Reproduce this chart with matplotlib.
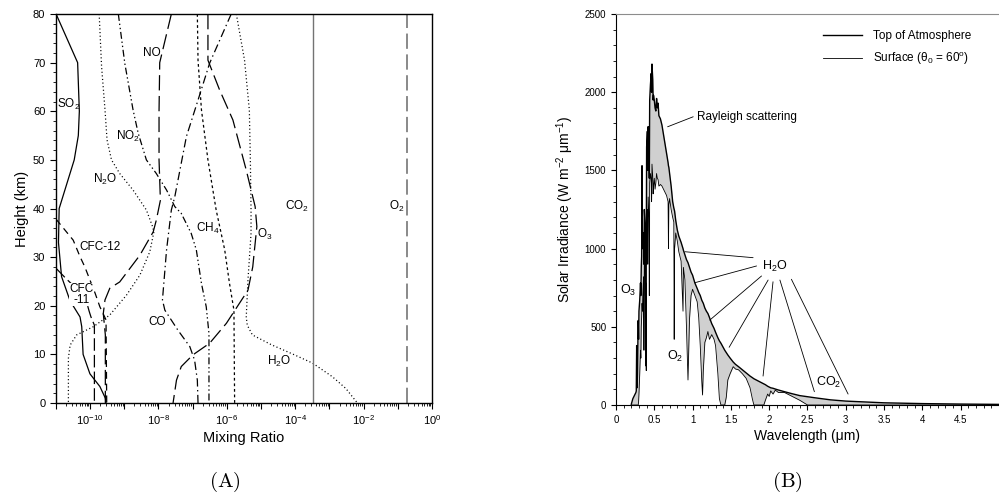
import numpy as np
import matplotlib
matplotlib.use('Agg')
import matplotlib.pyplot as plt
from matplotlib.ticker import FixedLocator, FuncFormatter, MultipleLocator, NullFormatter

plt.rcParams['font.family'] = ['Liberation Sans', 'DejaVu Sans']
plt.rcParams['mathtext.fontset'] = 'custom'
plt.rcParams['mathtext.rm'] = 'Liberation Sans'
plt.rcParams['mathtext.it'] = 'Liberation Sans:italic'
plt.rcParams['mathtext.default'] = 'regular'
plt.rcParams['lines.scale_dashes'] = False

# ---- (A) vertical profiles: height (km) vs log10 mixing ratio
so2_h = [80, 70, 60, 55, 50, 45, 40, 33, 26, 21, 17.7, 15.7, 10, 6, 3.4, 1, 0]
so2_x = [-10.99, -10.36, -10.31, -10.34, -10.46, -10.68, -10.90, -10.92, -10.83, -10.58,
         -10.29, -10.24, -10.20, -10.0, -9.71, -9.55, -9.53]

cfc11_h = [27.7, 25.6, 22.2, 20.8, 18.8, 17.7, 16, 0]
cfc11_x = [-10.99, -10.70, -10.20, -10.10, -10.02, -9.97, -9.87, -9.87]

cfc12_h = [37.8, 33.5, 30.1, 28.0, 22.6, 19.8, 17.1, 0]
cfc12_x = [-10.99, -10.49, -10.29, -10.15, -9.85, -9.71, -9.53, -9.51]

no_h = [80, 70, 60, 50, 41.7, 37.6, 35.2, 30.4, 24.9, 23.6, 21.2, 18.4, 14, 0]
no_x = [-7.62, -7.96, -7.98, -7.98, -7.94, -8.06, -8.15, -8.54, -9.13, -9.42, -9.56, -9.61,
        -9.55, -9.55]

n2o_h = [80, 69.2, 60.3, 54.1, 50, 47.2, 43.8, 39.7, 36.3, 35.2, 31.1, 26.3, 22.2, 18.1,
         15.7, 14, 11.9, 9.2, 0]
n2o_x = [-9.73, -9.66, -9.56, -9.50, -9.37, -9.13, -8.74, -8.35, -8.17, -8.13, -8.25, -8.54,
         -8.93, -9.42, -9.90, -10.39, -10.58, -10.63, -10.63]

no2_h = [80, 69.8, 60.3, 55.5, 50, 47.2, 43.8, 40.4, 39.0, 34.9, 31.5, 24.6, 19.8, 14.3, 0]
no2_x = [-9.17, -8.98, -8.74, -8.59, -8.35, -8.06, -7.76, -7.52, -7.33, -7.04, -6.89, -6.74,
         -6.60, -6.52, -6.52]

ch4_h = [80, 70.5, 60.3, 50, 39.7, 31.5, 24.6, 19.1, 0]
ch4_x = [-6.86, -6.84, -6.74, -6.55, -6.31, -6.06, -5.92, -5.79, -5.77]

co_h = [80, 69.9, 62.3, 54.8, 42.4, 39.7, 31.5, 21.2, 19.1, 15.0, 11.6, 8.8, 4.7, 0]
co_x = [-5.87, -6.50, -6.84, -7.18, -7.52, -7.62, -7.76, -7.88, -7.81, -7.43, -7.08, -6.94,
        -6.86, -6.84]

o3_h = [80, 70.5, 64.4, 58.2, 47.9, 40.4, 36.3, 28.0, 23.2, 20.5, 16.4, 12.3, 9.9, 7.5, 4.7, 0]
o3_x = [-6.55, -6.55, -6.21, -5.82, -5.43, -5.17, -5.12, -5.24, -5.38, -5.63, -6.01, -6.50,
        -6.99, -7.33, -7.47, -7.57]

h2o_h = [80, 70.5, 60.3, 50, 39.7, 34.9, 25.3, 17.7, 16, 14, 12, 10, 8.2, 5.4, 3.0, 0]
h2o_x = [-5.72, -5.48, -5.34, -5.31, -5.29, -5.29, -5.38, -5.43, -5.40, -5.25, -4.70, -4.05,
         -3.49, -2.91, -2.52, -2.18]

co2_x = -3.47
o2_x = -0.72

# ---- (B) solar spectrum: wavelength (um), top of atmosphere and surface irradiance
wl = [0.20, 0.22, 0.24, 0.26, 0.265, 0.27, 0.275, 0.28, 0.29, 0.295, 0.30, 0.31, 0.32, 0.325,
      0.33, 0.335, 0.34, 0.345, 0.35, 0.36, 0.365, 0.37, 0.38, 0.385, 0.39, 0.395, 0.40, 0.41,
      0.415, 0.42, 0.43, 0.435, 0.44, 0.45, 0.46, 0.465, 0.47, 0.48, 0.485, 0.49, 0.50, 0.51,
      0.52, 0.53, 0.54, 0.55, 0.56, 0.58, 0.60, 0.62, 0.64, 0.66, 0.68, 0.685, 0.69, 0.70,
      0.72, 0.74, 0.755, 0.76, 0.765, 0.78, 0.80, 0.82, 0.85, 0.875, 0.88, 0.90, 0.92, 0.94,
      0.96, 0.98, 1.00, 1.03, 1.06, 1.08, 1.10, 1.12, 1.13, 1.14, 1.16, 1.18, 1.20, 1.22,
      1.25, 1.28, 1.30, 1.33, 1.35, 1.37, 1.42, 1.44, 1.46, 1.49, 1.53, 1.56, 1.60, 1.65,
      1.70, 1.75, 1.78, 1.80, 1.93, 1.95, 1.98, 2.00, 2.02, 2.05, 2.08, 2.12, 2.20, 2.30,
      2.40, 2.50, 2.60, 2.80, 3.00, 3.50, 4.00, 4.50, 5.00]
toa = [5, 40, 60, 80, 90, 380, 110, 200, 540, 420, 600, 670, 780, 700,
       880, 950, 1530, 1000, 1050, 1100, 900, 1250, 1150, 700, 1050, 900, 1650, 1750,
       1500, 1780, 1650, 1450, 1950, 2050, 2120, 2000, 2180, 2080, 1950, 1980, 1950, 1900,
       1880, 1960, 1900, 1930, 1850, 1830, 1790, 1730, 1670, 1610, 1550, 1530, 1520, 1480,
       1400, 1300, 1260, 1250, 1240, 1180, 1120, 1080, 1040, 1000, 990, 960, 930, 910,
       880, 850, 830, 780, 745, 720, 700, 670, 660, 650, 620, 600, 585, 560,
       520, 490, 465, 430, 410, 395, 350, 335, 320, 300, 275, 260, 245, 225,
       205, 185, 175, 168, 135, 130, 120, 115, 110, 107, 102, 96, 85, 72,
       60, 53, 46, 33, 25, 14, 9, 6, 4]
sfc = [0, 0, 0, 0, 0, 0, 0, 0, 0, 20, 70, 200, 350, 300,
       500, 560, 650, 600, 700, 820, 350, 950, 880, 250, 780, 220, 1100, 1250,
       900, 1330, 1200, 700, 1420, 1480, 1440, 1300, 1540, 1460, 1350, 1400, 1450, 1380,
       1420, 1480, 1450, 1440, 1400, 1410, 1400, 1380, 1360, 1340, 1300, 1000, 1280, 1320,
       1250, 1200, 1170, 420, 1000, 1100, 1050, 980, 920, 600, 880, 800, 500, 160,
       550, 700, 740, 700, 660, 560, 380, 150, 64, 220, 400, 430, 470, 420,
       450, 420, 380, 200, 40, 0, 0, 50, 160, 200, 245, 230, 225, 200,
       170, 110, 40, 0, 0, 30, 70, 55, 90, 70, 95, 80, 80, 55,
       30, 0, 0, 0, 0, 0, 0, 0, 0]

fig = plt.figure(figsize=(9.99, 4.97), dpi=100)
ax1 = fig.add_axes([0.0558, 0.1891, 0.3766, 0.7827])
ax2 = fig.add_axes([0.6166, 0.1851, 0.3834, 0.7867])

# ---------------- panel A
def prof(x, h, ls, color='k', lw=0.9):
    ax1.plot(10.0 ** np.array(x), h, color=color, lw=lw, linestyle=ls)

prof(so2_x, so2_h, '-')
prof(cfc11_x, cfc11_h, (0, (9, 3)))
prof(cfc12_x, cfc12_h, (0, (5, 3.5)))
prof(no_x, no_h, (0, (11, 4)))
prof(n2o_x, n2o_h, (0, (0.8, 1.8)))
prof(no2_x, no2_h, (0, (5, 2, 1, 2, 1, 2)))
prof(ch4_x, ch4_h, (0, (2, 2)))
prof(co_x, co_h, (0, (6, 2.5, 1, 2.5)))
prof(o3_x, o3_h, (0, (11, 4)))
prof(h2o_x, h2o_h, (0, (0.8, 1.8)))
ax1.plot([10.0 ** co2_x] * 2, [0, 80], color='0.45', lw=1.0)
ax1.plot([10.0 ** o2_x] * 2, [0, 80], color='0.5', lw=1.3, linestyle=(0, (11, 4)))

ax1.set_xscale('log')
ax1.set_xlim(1e-11, 1)
ax1.set_ylim(0, 80)
ax1.xaxis.set_major_locator(FixedLocator([10.0 ** e for e in range(-11, 1)]))
ax1.xaxis.set_minor_locator(FixedLocator([m * 10.0 ** e for e in range(-11, 0) for m in range(2, 10)]))
ax1.xaxis.set_major_formatter(FuncFormatter(
    lambda v, p: r'$10^{%d}$' % round(np.log10(v)) if round(np.log10(v)) % 2 == 0 else ''))
ax1.xaxis.set_minor_formatter(NullFormatter())
ax1.yaxis.set_major_locator(MultipleLocator(10))
ax1.yaxis.set_minor_locator(MultipleLocator(2))
ax1.tick_params(which='major', direction='out', length=4, width=0.8, labelsize=8)
ax1.tick_params(which='minor', direction='out', length=2.5, width=0.6)
for s in ax1.spines.values():
    s.set_linewidth(1.0)
ax1.set_xlabel('Mixing Ratio', fontsize=10.5, labelpad=3)
ax1.set_ylabel('Height (km)', fontsize=10.5, labelpad=3)

lab = dict(fontsize=8.5, ha='center', va='center')
ax1.text(10 ** -10.63, 61.3, 'SO$_2$', **lab)
ax1.text(10 ** -8.2, 71.9, 'NO', **lab)
ax1.text(10 ** -8.88, 54.8, 'NO$_2$', **lab)
ax1.text(10 ** -9.56, 46.0, 'N$_2$O', **lab)
ax1.text(10 ** -3.94, 40.4, 'CO$_2$', **lab)
ax1.text(10 ** -1.04, 40.4, 'O$_2$', **lab)
ax1.text(10 ** -6.55, 35.9, 'CH$_4$', **lab)
ax1.text(10 ** -4.9, 34.6, 'O$_3$', **lab)
ax1.text(10 ** -9.71, 32.1, 'CFC-12', bbox=dict(fc='white', ec='none', pad=0.3), **lab)
ax1.text(10 ** -10.24, 22.3, 'CFC\n-11', linespacing=0.9,
         bbox=dict(fc='white', ec='none', pad=0.1), **lab)
ax1.text(10 ** -8.04, 16.7, 'CO', **lab)
ax1.text(10 ** -4.48, 8.5, 'H$_2$O', **lab)

# ---------------- panel B
ax2.fill_between(wl, sfc, toa, color='#d0d0d0', lw=0)
ax2.plot(wl, toa, color='k', lw=1.0, label='Top of Atmosphere')
ax2.plot(wl, sfc, color='k', lw=0.6, label=r'Surface ($\theta_0$ = 60$^o$)')
ax2.set_xlim(0, 5)
ax2.set_ylim(0, 2500)
ax2.xaxis.set_major_locator(FixedLocator([0, 0.5, 1, 1.5, 2, 2.5, 3, 3.5, 4, 4.5]))
ax2.xaxis.set_major_formatter(FuncFormatter(lambda v, p: '%g' % v))
ax2.xaxis.set_minor_locator(MultipleLocator(0.1))
ax2.yaxis.set_major_locator(MultipleLocator(500))
ax2.yaxis.set_minor_locator(MultipleLocator(100))
ax2.tick_params(which='major', direction='out', length=3.5, width=0.8, labelsize=7)
ax2.tick_params(which='minor', direction='out', length=2, width=0.6)
ax2.spines['right'].set_visible(False)
ax2.spines['top'].set_color('0.55')
ax2.set_xlabel(u'Wavelength (\u03bcm)', fontsize=10, labelpad=3)
ax2.set_ylabel(u'Solar Irradiance (W m$^{-2}$ \u03bcm$^{-1}$)', fontsize=10, labelpad=6)
ax2.legend(loc='upper left', bbox_to_anchor=(0.525, 0.975), frameon=False, fontsize=8.5,
           handlelength=3.3, handletextpad=0.9, labelspacing=0.75, borderpad=0)

lk = dict(arrowprops=dict(arrowstyle='-', lw=0.6, color='k', shrinkA=0, shrinkB=0))
ax2.annotate('', xy=(0.674, 1779), xytext=(1.008, 1843), **lk)
ax2.text(1.052, 1843, 'Rayleigh scattering', fontsize=8.5, ha='left', va='center')
h2o_from = [(1.79, 942), (1.835, 889), (1.90, 825), (1.986, 799), (2.05, 788), (2.14, 799), (2.29, 804)]
h2o_to = [(0.90, 980), (1.03, 782), (1.225, 543), (1.477, 369), (1.92, 185), (2.59, 85), (3.03, 70)]
for a, b in zip(h2o_from, h2o_to):
    ax2.annotate('', xy=b, xytext=a, **lk)
ax2.text(2.07, 884, 'H$_2$O', fontsize=9, ha='center', va='center')
ax2.text(2.77, 143, 'CO$_2$', fontsize=9, ha='center', va='center')
ax2.text(0.16, 735, 'O$_3$', fontsize=9, ha='center', va='center')
ax2.text(0.77, 309, 'O$_2$', fontsize=9, ha='center', va='center')

fig.text(225 / 999, 1 - 482 / 497, r'$\mathrm{(A)}$', fontsize=15, ha='center', va='center',
         math_fontfamily='cm')
fig.text(787 / 999, 1 - 482 / 497, r'$\mathrm{(B)}$', fontsize=15, ha='center', va='center',
         math_fontfamily='cm')

fig.savefig('out.png', dpi=100)
